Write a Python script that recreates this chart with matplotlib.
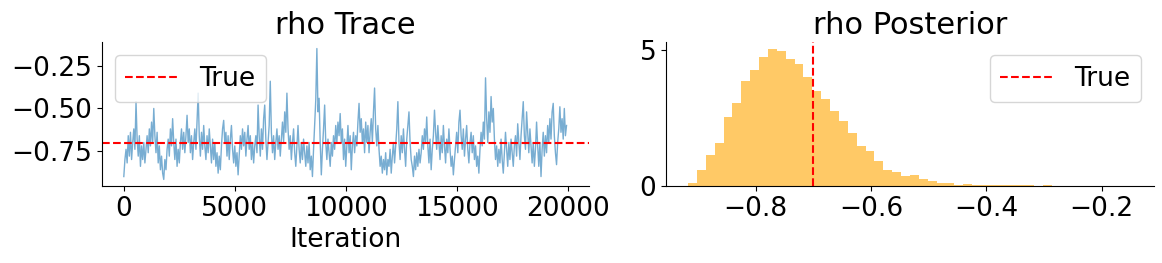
import numpy as np
import matplotlib
matplotlib.use('Agg')
import matplotlib.pyplot as plt

#-------------------------------------------------------------------------
# Data
#-------------------------------------------------------------------------

true_rho = -0.7
trace_step = 50  # one value every 50 iterations

rho_trace = [
    -0.90, -0.80, -0.74, -0.82, -0.66, -0.78, -0.64, -0.80, -0.70, -0.62, -0.74, -0.46, -0.68, -0.78, -0.66, -0.84, -0.72, -0.80, -0.70, -0.82,
    -0.74, -0.66, -0.76, -0.62, -0.72, -0.58, -0.70, -0.50, -0.66, -0.76, -0.64, -0.82, -0.72, -0.86, -0.78, -0.88, -0.917, -0.80, -0.86, -0.74,
    -0.68, -0.78, -0.62, -0.72, -0.56, -0.70, -0.80, -0.68, -0.84, -0.74, -0.82, -0.70, -0.62, -0.74, -0.64, -0.76, -0.66, -0.54, -0.70, -0.62,
    -0.76, -0.66, -0.80, -0.70, -0.62, -0.74, -0.58, -0.41, -0.66, -0.78, -0.64, -0.74, -0.60, -0.72, -0.80, -0.66, -0.76, -0.62, -0.72, -0.82,
    -0.68, -0.80, -0.70, -0.84, -0.76, -0.88, -0.78, -0.86, -0.72, -0.62, -0.57, -0.70, -0.64, -0.78, -0.66, -0.80, -0.68, -0.60, -0.74, -0.82,
    -0.72, -0.84, -0.76, -0.89, -0.78, -0.66, -0.74, -0.62, -0.72, -0.64, -0.78, -0.68, -0.60, -0.74, -0.66, -0.80, -0.70, -0.82, -0.72, -0.66,
    -0.76, -0.48, -0.66, -0.78, -0.62, -0.74, -0.56, -0.48, -0.68, -0.80, -0.70, -0.60, -0.34, -0.64, -0.76, -0.66, -0.80, -0.70, -0.62, -0.74,
    -0.66, -0.78, -0.68, -0.58, -0.70, -0.52, -0.64, -0.41, -0.62, -0.74, -0.66, -0.80, -0.70, -0.62, -0.76, -0.84, -0.72, -0.60, -0.74, -0.82,
    -0.70, -0.80, -0.68, -0.76, -0.84, -0.72, -0.82, -0.70, -0.86, -0.78, -0.90, -0.74, -0.60, -0.45, -0.148, -0.52, -0.44, -0.70, -0.89, -0.74,
    -0.62, -0.48, -0.70, -0.80, -0.68, -0.76, -0.84, -0.70, -0.78, -0.66, -0.74, -0.60, -0.70, -0.58, -0.66, -0.53, -0.70, -0.62, -0.80, -0.68,
    -0.84, -0.72, -0.60, -0.76, -0.66, -0.86, -0.72, -0.64, -0.76, -0.66, -0.72, -0.58, -0.47, -0.64, -0.56, -0.70, -0.62, -0.76, -0.58, -0.70,
    -0.60, -0.76, -0.64, -0.56, -0.70, -0.52, -0.38, -0.62, -0.72, -0.60, -0.74, -0.84, -0.78, -0.88, -0.80, -0.86, -0.76, -0.89, -0.80, -0.84,
    -0.74, -0.88, -0.78, -0.70, -0.82, -0.72, -0.62, -0.46, -0.70, -0.80, -0.66, -0.76, -0.62, -0.74, -0.84, -0.68, -0.60, -0.52, -0.70, -0.80,
    -0.84, -0.90, -0.78, -0.86, -0.76, -0.84, -0.74, -0.82, -0.76, -0.66, -0.74, -0.62, -0.70, -0.55, -0.72, -0.82, -0.68, -0.86, -0.74, -0.66,
    -0.51, -0.64, -0.74, -0.60, -0.70, -0.80, -0.66, -0.76, -0.60, -0.72, -0.82, -0.68, -0.76, -0.62, -0.74, -0.84, -0.78, -0.89, -0.80, -0.72,
    -0.64, -0.76, -0.58, -0.51, -0.66, -0.74, -0.62, -0.78, -0.68, -0.60, -0.74, -0.82, -0.70, -0.64, -0.76, -0.66, -0.80, -0.72, -0.84, -0.78,
    -0.88, -0.74, -0.64, -0.72, -0.58, -0.68, -0.32, -0.56, -0.70, -0.52, -0.64, -0.43, -0.58, -0.50, -0.68, -0.80, -0.72, -0.84, -0.74, -0.82,
    -0.68, -0.80, -0.88, -0.76, -0.64, -0.74, -0.84, -0.70, -0.80, -0.68, -0.76, -0.84, -0.72, -0.66, -0.78, -0.59, -0.70, -0.80, -0.66, -0.56,
    -0.46, -0.66, -0.74, -0.52, -0.64, -0.76, -0.62, -0.72, -0.82, -0.70, -0.84, -0.74, -0.58, -0.72, -0.84, -0.70, -0.90, -0.74, -0.64, -0.78,
    -0.66, -0.76, -0.60, -0.70, -0.56, -0.68, -0.52, -0.47, -0.66, -0.76, -0.83, -0.70, -0.62, -0.49, -0.64, -0.56, -0.68, -0.50, -0.66, -0.60,
]

# histogram (density) : 50 bins between min and max of the chain
hist_min = -0.917
hist_max = -0.148
hist_density = [
    0.11, 0.59, 1.15, 1.59, 2.55, 3.07, 3.88, 4.29, 4.77, 5.06,
    4.99, 4.69, 4.51, 4.03, 3.51, 3.21, 2.75, 2.38, 1.96, 1.48,
    1.29, 0.91, 0.58, 0.50, 0.36, 0.39, 0.25, 0.17, 0.10, 0.10,
    0.025, 0.06, 0.025, 0.025, 0.025, 0.025, 0.025, 0.025, 0.025, 0.0,
    0.025, 0.0, 0.0, 0.0, 0.0, 0.0, 0.0, 0.0, 0.0, 0.0,
]

iterations = np.arange(len(rho_trace)) * trace_step
bin_edges = np.linspace(hist_min, hist_max, len(hist_density) + 1)

#-------------------------------------------------------------------------
# Plot
#-------------------------------------------------------------------------

fig = plt.figure(figsize=(11.62, 2.63), dpi=100)
ax1 = fig.add_axes([0.0875, 0.2928, 0.4191, 0.5475])
ax2 = fig.add_axes([0.5731, 0.2928, 0.4200, 0.5475])

# trace
ax1.plot(iterations, rho_trace, color='C0', alpha=0.6, linewidth=1.0)
ax1.axhline(true_rho, color='red', linestyle='--', linewidth=1.5, label='True')
ax1.set_title('rho Trace', fontsize=22)
ax1.set_xlabel('Iteration', fontsize=19)
ax1.legend(loc='upper left', fontsize=19)

# posterior
ax2.hist(bin_edges[:-1], bins=bin_edges, weights=hist_density, color='orange', alpha=0.6)
ax2.axvline(true_rho, color='red', linestyle='--', linewidth=1.5, label='True')
ax2.set_title('rho Posterior', fontsize=22)
ax2.legend(loc='upper right', fontsize=19)

for ax in (ax1, ax2):
    ax.tick_params(axis='both', labelsize=19)
    ax.spines['top'].set_visible(False)
    ax.spines['right'].set_visible(False)

plt.savefig('out.png', dpi=100)
